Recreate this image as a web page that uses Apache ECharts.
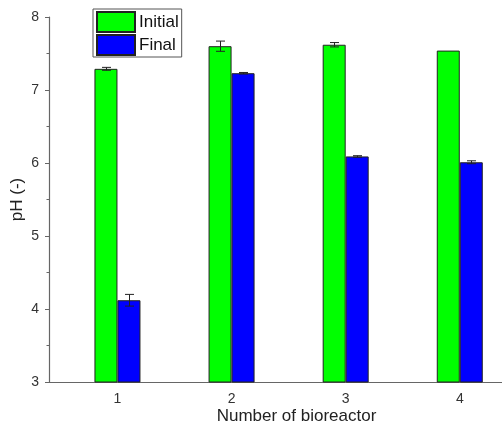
<!DOCTYPE html>
<html>
<head>
<meta charset="utf-8">
<script src="https://cdn.jsdelivr.net/npm/echarts@6/dist/echarts.min.js"></script>
<style>
  html, body { margin: 0; padding: 0; background: #fff; }
  #chart { width: 502px; height: 426px; }
</style>
</head>
<body>
<div id="chart"></div>
<script>
// Bioreactor numbers and pH readings (mean and standard deviation)
const reactors = [1, 2, 3, 4];
const initialPH = [7.29, 7.6, 7.62, 7.54];
const initialErr = [0.02, 0.07, 0.03, 0];
const finalPH = [4.12, 7.23, 6.09, 6.01];
const finalErr = [0.08, 0.01, 0.01, 0.02];
const yTicks = [3, 4, 5, 6, 7, 8];

const BAR_W = 23;
const FONT = 'Liberation Sans, Arial, sans-serif';

const chart = echarts.init(document.getElementById('chart'));

function errorData(values, errs, side) {
  return reactors.map((r, i) => [r, values[i], errs[i], side]);
}

function renderError(params, api) {
  const x = api.value(0), y = api.value(1), e = api.value(2), side = api.value(3);
  if (!e) return null;
  const dx = side * BAR_W / 2;
  const top = api.coord([x, y + e]);
  const bot = api.coord([x, y - e]);
  const cx = Math.round(top[0] + dx) + 0.5;
  const cap = 4.5;
  const style = { stroke: '#222', lineWidth: 1, fill: null };
  return {
    type: 'group',
    children: [
      { type: 'line', shape: { x1: cx, y1: top[1], x2: cx, y2: bot[1] }, style },
      { type: 'line', shape: { x1: cx - cap, y1: top[1], x2: cx + cap, y2: top[1] }, style },
      { type: 'line', shape: { x1: cx - cap, y1: bot[1], x2: cx + cap, y2: bot[1] }, style }
    ]
  };
}

chart.setOption({
  animation: false,
  backgroundColor: '#fff',
  grid: { left: 49, right: 0, top: 17, bottom: 44, outerBoundsMode: 'none', containLabel: false },
  legend: {
    left: 93, top: 9,
    orient: 'vertical',
    data: ['Initial', 'Final'],
    icon: 'rect',
    itemWidth: 38, itemHeight: 20, itemGap: 1,
    padding: [2, 3, 1, 3],
    borderColor: '#555', borderWidth: 1,
    backgroundColor: '#fff',
    textStyle: { fontFamily: FONT, fontSize: 17, color: '#111', padding: [0, 0, 0, -1] }
  },
  xAxis: {
    type: 'value',
    min: 0.4, max: 4.37,
    name: 'Number of bioreactor',
    nameLocation: 'middle',
    nameGap: 26,
    nameMoveOverlap: false,
    nameTextStyle: { fontFamily: FONT, fontSize: 17, color: '#222', padding: [0, 0, 0, 42] },
    axisLine: { show: true, onZero: false, lineStyle: { color: '#666', width: 1.2 } },
    axisTick: { show: false },
    splitLine: { show: false },
    axisLabel: { customValues: reactors, fontFamily: FONT, fontSize: 14, color: '#333', margin: 10 }
  },
  yAxis: {
    type: 'value',
    min: 3, max: 8, interval: 1,
    name: 'pH (-)',
    nameLocation: 'middle',
    nameRotate: 90,
    nameGap: 23,
    nameMoveOverlap: false,
    nameTextStyle: { fontFamily: FONT, fontSize: 17, color: '#222' },
    axisLine: { show: true, lineStyle: { color: '#666', width: 1.2 } },
    axisTick: { show: true, inside: false, length: 4, lineStyle: { color: '#666' } },
    minorTick: { show: true, splitNumber: 2, length: 2.5, lineStyle: { color: '#666' } },
    splitLine: { show: false },
    axisLabel: { customValues: yTicks, fontFamily: FONT, fontSize: 14, color: '#333', margin: 10 }
  },
  series: [
    {
      name: 'Initial', type: 'bar', barWidth: BAR_W, barGap: '0%',
      data: reactors.map((r, i) => [r, initialPH[i]]),
      itemStyle: { color: '#00ff00', borderColor: '#222', borderWidth: 1 }
    },
    {
      name: 'Final', type: 'bar', barWidth: BAR_W, barGap: '0%',
      data: reactors.map((r, i) => [r, finalPH[i]]),
      itemStyle: { color: '#0000ff', borderColor: '#222', borderWidth: 1 }
    },
    {
      type: 'custom', renderItem: renderError, z: 5,
      data: errorData(initialPH, initialErr, -1)
    },
    {
      type: 'custom', renderItem: renderError, z: 5,
      data: errorData(finalPH, finalErr, 1)
    }
  ]
});
</script>
</body>
</html>
